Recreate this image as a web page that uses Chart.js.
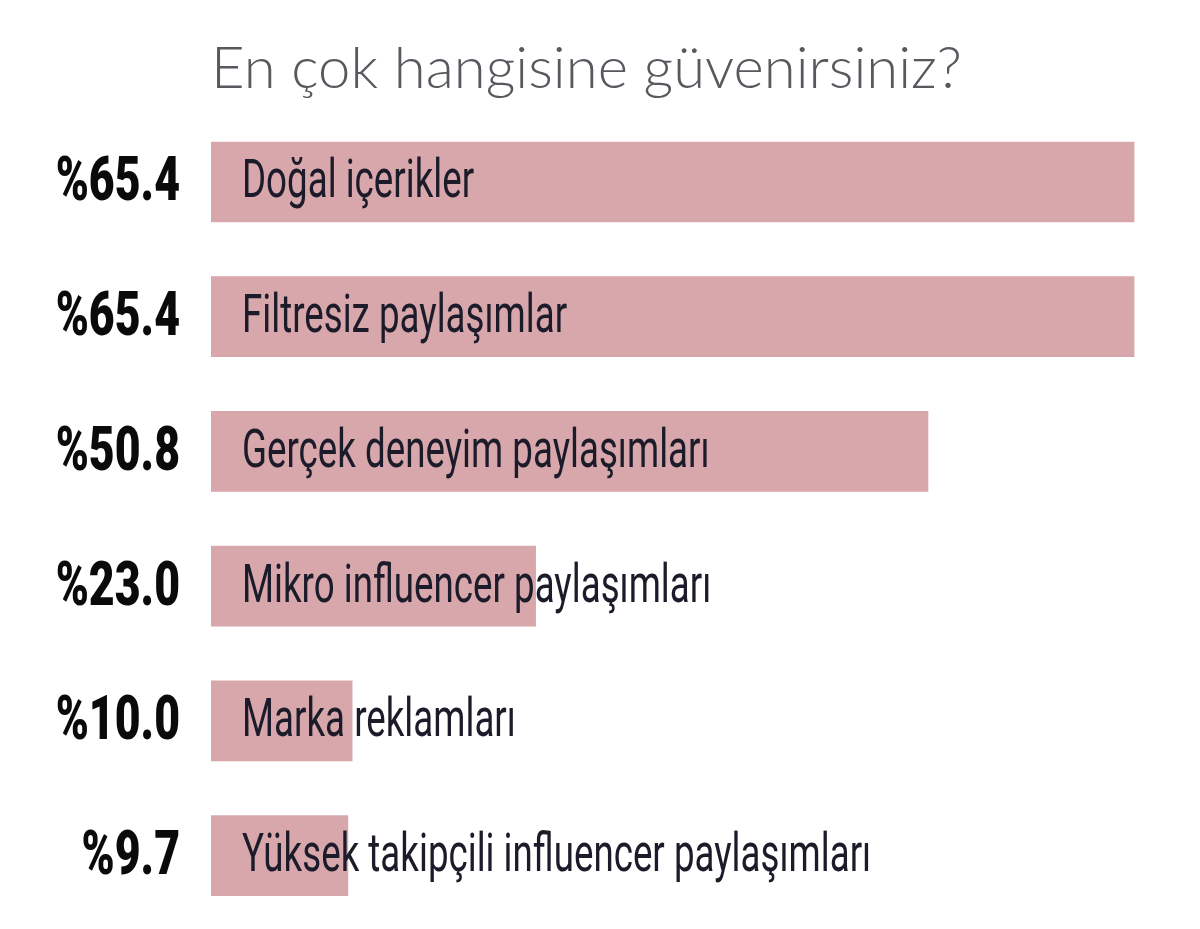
<!DOCTYPE html>
<html>
<head>
<meta charset="utf-8">
<script src="https://cdn.jsdelivr.net/npm/chart.js@4/dist/chart.umd.min.js"></script>
<style>
  html, body { margin: 0; padding: 0; background: #fff; }
  #wrap { width: 1200px; height: 929px; }
</style>
</head>
<body>
<div id="wrap"><canvas id="chart"></canvas></div>
<script>
const titleText = 'En çok hangisine güvenirsiniz?'
const categories = [
    'Doğal içerikler',
    'Filtresiz paylaşımlar',
    'Gerçek deneyim paylaşımları',
    'Mikro influencer paylaşımları',
    'Marka reklamları',
    'Yüksek takipçili influencer paylaşımları'
]
const values = [65.4, 65.4, 50.8, 23.0, 10.0, 9.7]
const valueLabels = ['%65.4', '%65.4', '%50.8', '%23.0', '%10.0', '%9.7']

// condensed text: squeeze a normal font horizontally
function squeezeText(ctx, text, x, y, font, color, sx, align) {
    ctx.save()
    ctx.font = font
    ctx.fillStyle = color
    ctx.textBaseline = 'middle'
    ctx.textAlign = align
    ctx.translate(x, y)
    ctx.scale(sx, 1)
    ctx.fillText(text, 0, 0)
    ctx.restore()
}

const barLabels = {
    id: 'barLabels',
    afterDatasetsDraw(chart) {
        const ctx = chart.ctx
        const meta = chart.getDatasetMeta(0)
        const x0 = chart.scales.x.getPixelForValue(0)
        meta.data.forEach(function(bar, i) {
            squeezeText(ctx, categories[i], x0 + 31, bar.y + 2, '400 54px Roboto', '#1c1b2a', 0.68, 'left')
            squeezeText(ctx, valueLabels[i], x0 - 31, bar.y + 3, '900 62px Roboto', '#0a0a0a', 0.72, 'right')
        })
    }
}

new Chart(document.getElementById('chart'), {
    type: 'bar',
    data: {
        labels: categories,
        datasets: [{
            data: values,
            backgroundColor: '#d8a7ab',
            borderWidth: 0,
            barThickness: 80
        }]
    },
    options: {
        indexAxis: 'y',
        responsive: true,
        maintainAspectRatio: false,
        animation: false,
        layout: { padding: { left: 211, right: 1, top: 0, bottom: 6 } },
        scales: {
            x: { display: false, min: 0, max: 70 },
            y: { display: false }
        },
        plugins: {
            legend: { display: false },
            tooltip: { enabled: false },
            title: {
                display: true,
                text: titleText,
                align: 'start',
                fullSize: false,
                color: '#58585e',
                font: { family: 'Lato', size: 58, weight: '300' },
                padding: { top: 34, bottom: 11 }
            }
        }
    },
    plugins: [barLabels]
})
</script>
</body>
</html>
